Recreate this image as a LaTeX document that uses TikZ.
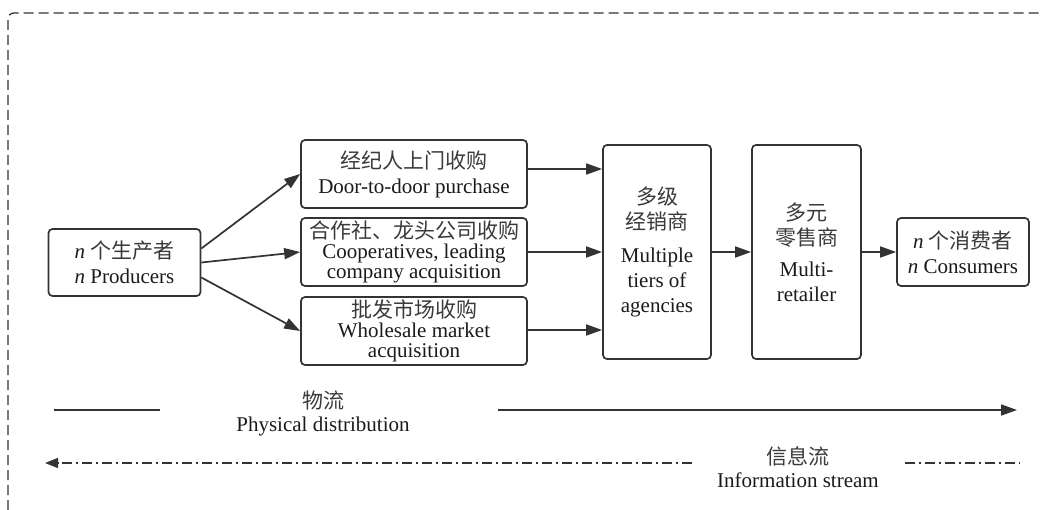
\documentclass[tikz,border=0pt]{standalone}
\usepackage{fontspec}
\setmainfont{Liberation Serif}
\newfontfamily\cjk{Noto Sans CJK SC}
\usetikzlibrary{arrows.meta}
\definecolor{linec}{HTML}{333333}
\definecolor{txtc}{HTML}{1A1A1A}
\definecolor{cjkc}{HTML}{3A3A3A}
\begin{document}
\begin{tikzpicture}[x=1pt,y=-1pt,
  box/.style={draw=linec, line width=1.7pt, rounded corners=4pt, align=center,
    inner sep=0pt, text=txtc, font=\fontsize{21}{25}\selectfont},
  tight/.style={font=\fontsize{21}{20}\selectfont},
  arr/.style={draw=linec, line width=1.7pt, -{Triangle[length=16pt,width=11pt]}},
  plain/.style={draw=linec, line width=1.7pt},
  info/.style={draw=linec, line width=1.4pt, dash pattern=on 10pt off 4pt on 2pt off 4pt},
  lbl/.style={align=center, inner sep=0pt, text=txtc, font=\fontsize{21}{23}\selectfont},
  frame/.style={draw=linec, line width=1.3pt, dash pattern=on 10pt off 5pt}]
\useasboundingbox (0,0) rectangle (1041,510);
% frame
\coordinate (f1) at (8,510);
\coordinate (f2) at (8,13);
\coordinate (f3) at (1041,13);
\draw[frame, rounded corners=6pt] (f1) -- (f2) -- (f3);
% nodes
\node[box, minimum width=152pt, minimum height=67pt] (prod) at (124.5,262.5)
  {\textit{n} {\cjk\color{cjkc}个生产者}\\\textit{n} Producers};
\node[box, minimum width=226pt, minimum height=68pt] (b1) at (414,174)
  {{\cjk\color{cjkc}经纪人上门收购}\\Door-to-door purchase};
\node[box, tight, minimum width=226pt, minimum height=68pt] (b2) at (414,252)
  {{\cjk\color{cjkc}合作社、龙头公司收购}\\Cooperatives, leading\\company acquisition};
\node[box, tight, minimum width=226pt, minimum height=68pt] (b3) at (414,331)
  {{\cjk\color{cjkc}批发市场收购}\\Wholesale market\\acquisition};
\node[box, minimum width=108pt, minimum height=214pt] (ag) at (657,252)
  {{\cjk\color{cjkc}多级}\\{\cjk\color{cjkc}经销商}\\[8pt]Multiple\\tiers of\\agencies};
\node[box, minimum width=109pt, minimum height=214pt] (rt) at (806.5,252)
  {{\cjk\color{cjkc}多元}\\{\cjk\color{cjkc}零售商}\\[6pt]Multi-\\retailer};
\node[box, minimum width=132pt, minimum height=68pt] (cs) at (963,252)
  {\textit{n} {\cjk\color{cjkc}个消费者}\\\textit{n} Consumers};
% connectors
\draw[arr] ([yshift=14pt]prod.east) -- (b1.west);
\draw[arr] (prod.east) -- (b2.west);
\draw[arr] ([yshift=-15pt]prod.east) -- (b3.west);
\draw[arr] ([yshift=5pt]b1.east) -- ([yshift=5pt]b1.east -| ag.west);
\draw[arr] (b2.east) -- (b2.east -| ag.west);
\draw[arr] ([yshift=1pt]b3.east) -- ([yshift=1pt]b3.east -| ag.west);
\draw[arr] (ag.east) -- (rt.west);
\draw[arr] (rt.east) -- (cs.west);
% physical distribution
\coordinate (p1) at (54,410);
\coordinate (p2) at (160,410);
\coordinate (p3) at (498,410);
\coordinate (p4) at (1017,410);
\draw[plain] (p1) -- (p2);
\draw[arr] (p3) -- (p4);
\node[lbl] (pl) at (323,413) {{\cjk\color{cjkc}物流}\\Physical distribution};
% information stream
\coordinate (i1) at (692,463);
\coordinate (i2) at (45,463);
\coordinate (i3) at (905,463);
\coordinate (i4) at (1020,463);
\draw[info, -{Triangle[length=13pt,width=10pt]}] (i1) -- (i2);
\draw[info] (i3) -- (i4);
\node[lbl] (il) at (798,467) {{\cjk\color{cjkc}信息流}\\Information stream};
\end{tikzpicture}
\end{document}
